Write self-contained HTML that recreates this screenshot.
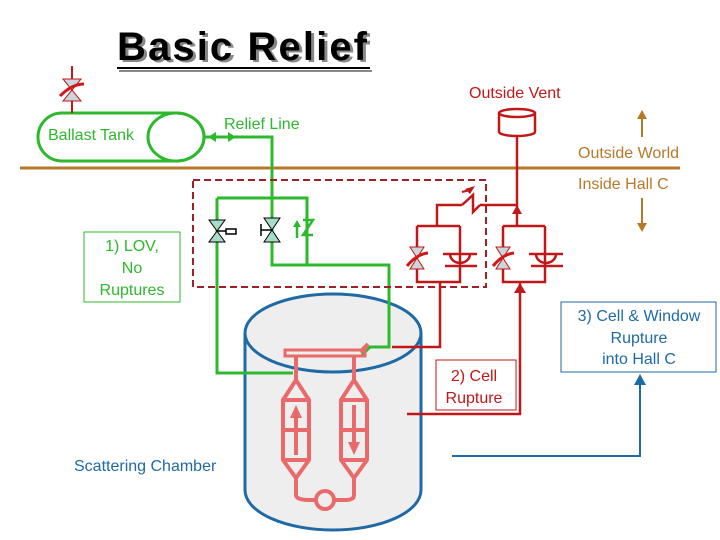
<!DOCTYPE html>
<html><head><style>
html,body{margin:0;padding:0;background:#fff;}
svg{display:block;font-family:"Liberation Sans",sans-serif;}
</style></head><body>
<svg width="720" height="540" viewBox="0 0 720 540" xmlns="http://www.w3.org/2000/svg">
<!-- title -->
<text x="120" y="62" font-size="40" font-weight="bold" fill="#888" font-family="Liberation Sans" textLength="250">Basic Relief</text>
<text x="117" y="60" font-size="40" font-weight="bold" fill="#000" font-family="Liberation Sans" textLength="250">Basic Relief</text>
<line x1="117" y1="68" x2="370" y2="68" stroke="#000" stroke-width="2"/>
<line x1="119" y1="71" x2="372" y2="71" stroke="#888" stroke-width="2"/>

<!-- chamber -->
<path d="M245,333 V490 A88,40 0 0 0 421,490 V333" fill="#eeeeee" stroke="#1f6aa5" stroke-width="3"/>
<ellipse cx="333" cy="333" rx="88" ry="39" fill="#eeeeee" stroke="#1f6aa5" stroke-width="3"/>
<text x="74" y="471" font-size="16" fill="#1f6aa5">Scattering Chamber</text>

<!-- brown line -->
<line x1="20" y1="168" x2="680" y2="168" stroke="#b8782a" stroke-width="3"/>
<text x="578" y="158" font-size="16" fill="#b8782a">Outside World</text>
<text x="578" y="189" font-size="16" fill="#b8782a">Inside Hall C</text>
<line x1="642" y1="137" x2="642" y2="116" stroke="#b8782a" stroke-width="2"/>
<polygon points="637,119 647,119 642,110" fill="#b8782a"/>
<line x1="642" y1="198" x2="642" y2="226" stroke="#b8782a" stroke-width="2"/>
<polygon points="637,223 647,223 642,232" fill="#b8782a"/>

<!-- ballast tank -->
<g stroke="#2db82d" stroke-width="3" fill="none">
<path d="M62,113 H176 A28,24 0 0 1 176,161 H62 A24,24 0 0 1 62,113 Z"/>
<ellipse cx="176" cy="137" rx="28" ry="24"/>
<path d="M205,137 H272 V198"/>
<path d="M217,198 H307 V265"/>
<path d="M217,198 V373 H293"/>
<path d="M272,198 V265 H389 V347 H370 L362,355"/>
</g>
<polygon points="208,137 216,132 216,142" fill="#2db82d"/>
<polygon points="236,137 228,132 228,142" fill="#2db82d"/>
<text x="48" y="140" font-size="16" fill="#2db82d">Ballast Tank</text>
<text x="224" y="129" font-size="16" fill="#2db82d">Relief Line</text>

<!-- ballast valve -->
<line x1="72" y1="66" x2="72" y2="113" stroke="#c01818" stroke-width="2"/>
<polygon points="63,79 81,79 72,90 81,101 63,101 72,90" fill="#c9d6dc" stroke="#c01818" stroke-width="1"/>
<path d="M60,96 Q72,84 84,84" stroke="#d01818" stroke-width="3" fill="none"/>

<!-- dashed box -->
<rect x="193" y="180" width="293" height="107" fill="none" stroke="#a0202a" stroke-width="2" stroke-dasharray="7,4"/>

<!-- green valves -->
<polygon points="209,220 225,220 217,231 225,242 209,242 217,231" fill="#a8dcc8" stroke="#000" stroke-width="1"/>
<rect x="226" y="229" width="10" height="5" fill="#fff" stroke="#000" stroke-width="1.5"/>
<line x1="217" y1="231" x2="226" y2="231" stroke="#000" stroke-width="1.5"/>
<polygon points="264,218 280,218 272,230 280,242 264,242 272,230" fill="#a8dcc8" stroke="#000" stroke-width="1"/>
<line x1="261" y1="230" x2="272" y2="230" stroke="#000" stroke-width="1.5"/>
<line x1="261" y1="224" x2="261" y2="236" stroke="#000" stroke-width="1.5"/>
<path d="M303,220 H313 L303,235 H313" stroke="#2db82d" stroke-width="2.5" fill="none"/>
<line x1="297" y1="238" x2="297" y2="225" stroke="#2db82d" stroke-width="2.5"/>
<polygon points="293,227 301,227 297,220" fill="#2db82d"/>

<!-- vent -->
<g stroke="#c01818" stroke-width="2.5" fill="none">
<path d="M499,113 V132 A18,4 0 0 0 535,132 V113"/>
<ellipse cx="517" cy="113" rx="18" ry="4"/>
<path d="M517,136 V226"/>
<path d="M437,226 V205 H462 M480,205 H517"/>
<path d="M462,205 L473,195 V212 L480,205"/>
<path d="M417,226 H460 M417,226 V282 H460 V226"/>
<path d="M503,226 H545 M503,226 V282 H545 V226"/>
<path d="M440,282 V347 H392"/>
<path d="M520,282 V414 H407"/>
</g>
<polygon points="465,189 475,186 470,194" fill="#c01818"/>
<line x1="470" y1="190" x2="462" y2="192" stroke="#c01818" stroke-width="2"/>
<polygon points="512,214 522,214 517,205" fill="#c01818"/>
<polygon points="514,293 526,293 520,283" fill="#c01818"/>
<!-- red valves -->
<g>
<polygon points="410,247 424,247 417,258 424,269 410,269 417,258" fill="#c9d6dc" stroke="#c01818"/>
<path d="M407,266 Q417,254 428,253" stroke="#d01818" stroke-width="3" fill="none"/>
<polygon points="496,247 510,247 503,258 510,269 496,269 503,258" fill="#c9d6dc" stroke="#c01818"/>
<path d="M493,266 Q503,254 514,253" stroke="#d01818" stroke-width="3" fill="none"/>
<g stroke="#c01818" stroke-width="2.5" fill="none">
<path d="M443,254 H477 M445,266 H477 M450,254 A10,9 0 0 0 470,254"/>
<path d="M529,254 H563 M531,266 H563 M536,254 A10,9 0 0 0 556,254"/>
</g>
</g>
<text x="469" y="98" font-size="16" fill="#c01818">Outside Vent</text>

<!-- target cell -->
<g stroke="#e86a6a" stroke-width="4" fill="none">
<rect x="285" y="350" width="80" height="6" stroke-width="3"/>
<path d="M296,356 V380 M354,356 V380"/>
<path d="M296,380 L283,400 V460 L296,478 L309,460 V400 Z"/>
<path d="M354,380 L341,400 V460 L354,478 L367,460 V400 Z"/>
<path d="M283,430 H309 M341,430 H367 M283,400 H309 M341,400 H367 M283,460 H309 M341,460 H367"/>
<path d="M296,478 V495 Q296,500 310,500 H315 M335,500 H345 Q354,500 354,495 V478"/>
<circle cx="325" cy="500" r="9"/>
<path d="M360,352 L368,344"/>
</g>
<g stroke="#e86a6a" stroke-width="4">
<line x1="296" y1="455" x2="296" y2="415"/>
<line x1="354" y1="405" x2="354" y2="445"/>
</g>
<polygon points="290,418 302,418 296,405" fill="#e86a6a"/>
<polygon points="348,442 360,442 354,455" fill="#e86a6a"/>

<!-- labels -->
<rect x="84" y="232" width="96" height="70" fill="#fff" stroke="#2db82d" stroke-width="1"/>
<text font-size="16" fill="#2db82d" text-anchor="middle"><tspan x="132" y="251">1) LOV,</tspan><tspan x="132" y="273">No</tspan><tspan x="132" y="295">Ruptures</tspan></text>
<rect x="436" y="360" width="80" height="50" fill="#fff" stroke="#c01818" stroke-width="1"/>
<text font-size="16" fill="#c01818" text-anchor="middle"><tspan x="474" y="381">2) Cell</tspan><tspan x="474" y="403">Rupture</tspan></text>
<rect x="561" y="302" width="155" height="70" fill="#fff" stroke="#1f6aa5" stroke-width="1"/>
<text font-size="16" fill="#1f6aa5" text-anchor="middle"><tspan x="639" y="321">3) Cell &amp; Window</tspan><tspan x="639" y="343">Rupture</tspan><tspan x="639" y="364">into Hall C</tspan></text>
<path d="M452,456 H640 V382" stroke="#1f6aa5" stroke-width="2" fill="none"/>
<polygon points="634,385 646,385 640,374" fill="#1f6aa5"/>
</svg>
</body></html>
